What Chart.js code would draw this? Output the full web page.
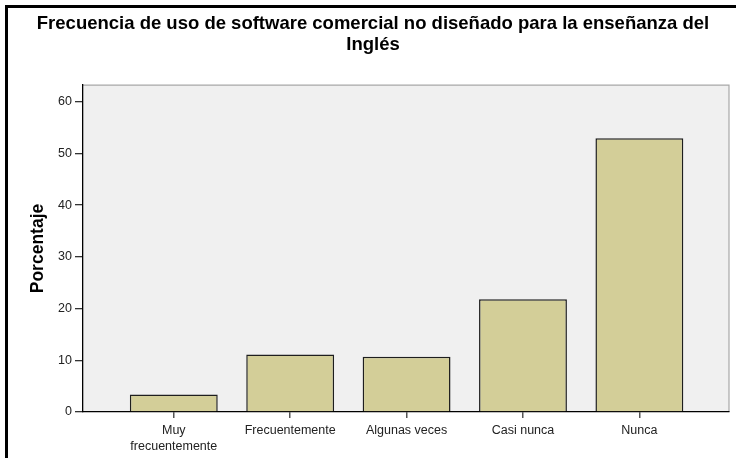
<!DOCTYPE html>
<html>
<head>
<meta charset="utf-8">
<script src="https://cdn.jsdelivr.net/npm/chart.js@4"></script>
<style>
  html, body { margin: 0; padding: 0; background: #fff; }
  #wrap { width: 736px; height: 458px; }
</style>
</head>
<body>
<div id="wrap"><canvas id="grafico"></canvas></div>
<script>
const categorias = [
  ["Muy", "frecuentemente"],
  "Frecuentemente",
  "Algunas veces",
  "Casi nunca",
  "Nunca"
];
const porcentajes = [3.4, 11.1, 10.7, 21.8, 52.9];
const ticksY = [0, 10, 20, 30, 40, 50, 60];

const fuente = "'Liberation Sans', Arial, sans-serif";

// fondo gris del area de trazado + marco negro de la figura
const marco = {
  id: "marco",
  beforeDraw(chart) {
    const { ctx, chartArea: a, width, height } = chart;
    ctx.save();
    ctx.fillStyle = "#fff";
    ctx.fillRect(0, 0, width, height);
    ctx.fillStyle = "#f0f0f0";
    ctx.fillRect(a.left, a.top, a.right - a.left, a.bottom - a.top);
    ctx.strokeStyle = "#a8a8a8";
    ctx.lineWidth = 1.2;
    ctx.beginPath();
    ctx.moveTo(a.left, a.top);
    ctx.lineTo(a.right, a.top);
    ctx.lineTo(a.right, a.bottom);
    ctx.stroke();
    ctx.strokeStyle = "#000";
    ctx.lineWidth = 3;
    ctx.beginPath();
    ctx.moveTo(6.5, height);
    ctx.lineTo(6.5, 6.5);
    ctx.lineTo(width, 6.5);
    ctx.stroke();
    ctx.restore();
  }
};

const ctx = document.getElementById("grafico").getContext("2d");
new Chart(ctx, {
  type: "bar",
  data: {
    datasets: [{
      data: porcentajes.map((v, i) => ({ x: i, y: v })),
      backgroundColor: "#d3ce98",
      borderColor: "#1e1e1e",
      borderWidth: 1.5,
      categoryPercentage: 1,
      barPercentage: 0.755
    }]
  },
  options: {
    responsive: true,
    maintainAspectRatio: false,
    animation: false,
    layout: { padding: { left: 17, right: 7, top: 0, bottom: 0 } },
    plugins: {
      legend: { display: false },
      tooltip: { enabled: false },
      title: {
        display: true,
        text: ["Frecuencia de uso de software comercial no diseñado para la enseñanza del", "Inglés"],
        color: "#000",
        font: { family: fuente, size: 18.5, weight: "bold", lineHeight: 1.12 },
        padding: { top: 14, bottom: 29.6 }
      }
    },
    scales: {
      x: {
        type: "linear",
        offset: false,
        min: -0.78,
        max: 4.77,
        afterBuildTicks: s => { s.ticks = categorias.map((c, i) => ({ value: i })); },
        afterFit: s => { s.height = 46; },
        ticks: {
          autoSkip: false,
          maxRotation: 0,
          padding: 5,
          color: "#222",
          font: { family: fuente, size: 12.5, lineHeight: 1.28 },
          callback: v => categorias[v]
        },
        grid: { offset: false, drawOnChartArea: false, tickLength: 6, color: "#555", lineWidth: 1.5 },
        border: { color: "#000", width: 1.3 }
      },
      y: {
        min: 0,
        max: 63.2,
        afterBuildTicks: s => { s.ticks = ticksY.map(v => ({ value: v })); },
        afterFit: s => { s.width = 66; },
        ticks: {
          padding: 3,
          color: "#222",
          font: { family: fuente, size: 12.5 }
        },
        grid: { drawOnChartArea: false, tickLength: 8, color: "#333", lineWidth: 1.3 },
        border: { color: "#000", width: 1.3 },
        title: {
          display: true,
          text: "Porcentaje",
          color: "#000",
          font: { family: fuente, size: 17.5, weight: "bold", lineHeight: 1.2 },
          padding: { top: 10.5, bottom: 0 }
        }
      }
    }
  },
  plugins: [marco]
});
</script>
</body>
</html>
